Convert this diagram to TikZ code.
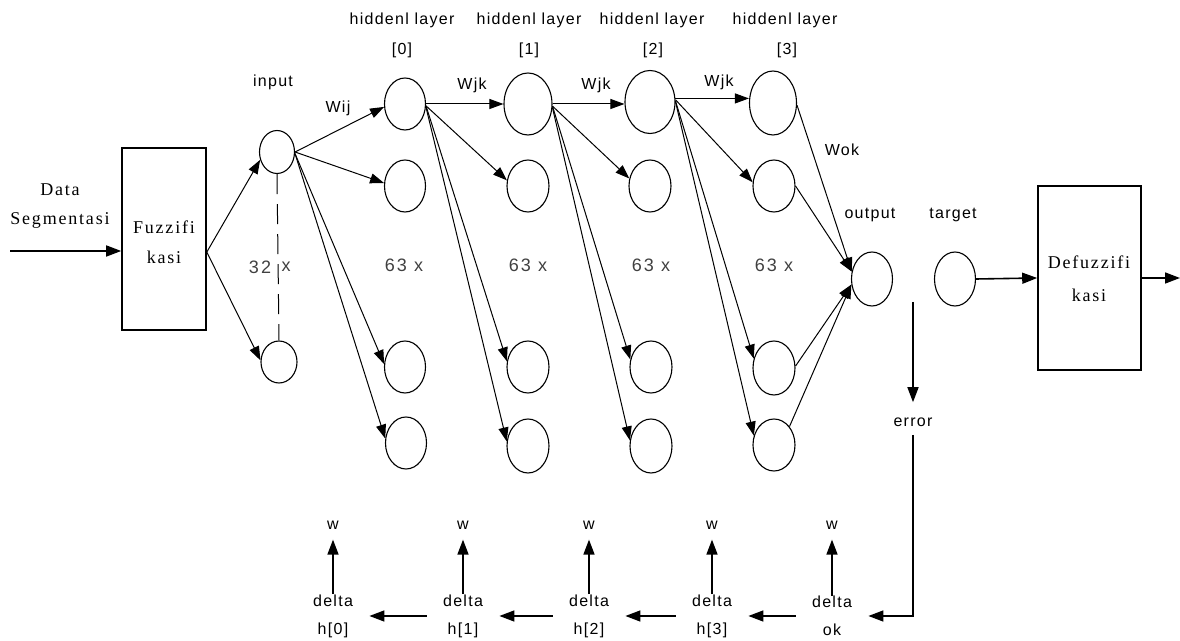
\documentclass[tikz,border=0pt]{standalone}
\usepackage{fontspec}
\setmainfont{Liberation Serif}
\newfontfamily\labfont[LetterSpace=8]{Liberation Sans}
\newfontfamily\cntfont[LetterSpace=12]{Liberation Sans}
\newfontfamily\serfont[LetterSpace=10]{Liberation Serif}
\usetikzlibrary{shapes.geometric,arrows.meta}

\begin{document}
\begin{tikzpicture}[x=0.5pt,y=-0.5pt,
  neuron/.style={ellipse, draw, line width=0.55pt, inner sep=0pt,
                 minimum width=20.5pt, minimum height=26pt},
  arr/.style={draw, line width=0.5pt, -{Triangle[length=7pt,width=5pt]}},
  thickarr/.style={arr, line width=0.8pt, -{Triangle[length=7.5pt,width=5.5pt]}},
  boxnode/.style={draw, line width=0.8pt, inner sep=0pt},
  lab/.style={font=\labfont\fontsize{8}{14}\selectfont, inner sep=0pt},
  cnt/.style={font=\cntfont\fontsize{9}{11}\selectfont, text=black!75, inner sep=0pt},
  ser/.style={font=\serfont\fontsize{9}{11}\selectfont, inner sep=0pt},
  deltanode/.style={lab, align=center, minimum width=36pt},
  wlab/.style={lab, inner xsep=0pt, inner ysep=5pt}]
\useasboundingbox (0,0) rectangle (1180,641);

% ---------- fuzzification block ----------
\node[boxnode, minimum width=42pt, minimum height=91pt] (fz) at (164,239) {};
\node[ser] (fzt1) at (164,227) {Fuzzifi};
\node[ser] (fzt2) at (164,257) {kasi};
\node[ser] (din1) at (60,190) {Data};
\node[ser] (din2) at (60,220) {Segmentasi};
\coordinate (din) at (10,251);
\draw[thickarr] (din) -- (din -| fz.west);

% ---------- input layer ----------
\node[neuron, minimum width=17.5pt, minimum height=21.5pt] (i1) at (277,152) {};
\node[neuron, minimum width=18pt, minimum height=21pt] (i2) at (279,362) {};
\draw[line width=0.5pt, dash pattern=on 10pt off 5pt] (i1.south) -- (i2.north);
\node[lab] (inl) at (273,82) {input};
\node[cnt] (n32) at (260,267) {32};
\node[cnt] (x32) at (286,267) {x};

% ---------- hidden layers ----------
\node[neuron] (h0a) at (405,104) {};
\node[neuron] (h0b) at (405,186) {};
\node[neuron] (h0c) at (405,367) {};
\node[neuron] (h0d) at (406,443) {};

\node[neuron, minimum width=24pt, minimum height=31pt] (h1a) at (528,104) {};
\node[neuron, minimum width=21pt] (h1b) at (528,186) {};
\node[neuron, minimum width=21pt] (h1c) at (528,367) {};
\node[neuron, minimum width=21pt, minimum height=27pt] (h1d) at (528,446) {};

\node[neuron, minimum width=25pt, minimum height=31.5pt] (h2a) at (650,102) {};
\node[neuron, minimum width=21pt] (h2b) at (650,186) {};
\node[neuron, minimum width=21pt] (h2c) at (651,367) {};
\node[neuron, minimum width=21pt, minimum height=27pt] (h2d) at (651,446) {};

\node[neuron, minimum width=23.5pt, minimum height=32pt] (h3a) at (773,103) {};
\node[neuron, minimum width=21pt] (h3b) at (774,186) {};
\node[neuron, minimum width=21pt, minimum height=27pt] (h3c) at (774,368) {};
\node[neuron, minimum width=21pt] (h3d) at (774,445) {};

\node[neuron, minimum height=27pt] (out) at (872,279) {};
\node[neuron, minimum height=27pt] (tg) at (955,279) {};

% layer titles
\node[lab] (t0) at (402,20) {hiddenl layer};
\node[lab] (t1) at (529,20) {hiddenl layer};
\node[lab] (t2) at (652,20) {hiddenl layer};
\node[lab] (t3) at (785,20) {hiddenl layer};
\node[lab] (b0) at (402,50) {[0]};
\node[lab] (b1) at (529,50) {[1]};
\node[lab] (b2) at (653,50) {[2]};
\node[lab] (b3) at (787,50) {[3]};

% neuron counts
\node[cnt] (c0) at (404,265) {63 x};
\node[cnt] (c1) at (528,265) {63 x};
\node[cnt] (c2) at (651,265) {63 x};
\node[cnt] (c3) at (774,265) {63 x};

% weight labels
\node[lab] (wij) at (338,108) {Wij};
\node[lab] (wjk0) at (472,85) {Wjk};
\node[lab] (wjk1) at (596,85) {Wjk};
\node[lab] (wjk2) at (719,82) {Wjk};
\node[lab] (wok) at (842,150) {Wok};
\node[lab] (outl) at (870,215) {output};
\node[lab] (tgl) at (953,215) {target};

% ---------- forward connections ----------
\draw[arr] (fz.-17) -- (i1.205);
\draw[arr] (fz.-17) -- (i2.175);

\draw[arr] (i1.east) -- (h0a.188);
\draw[arr] (i1.east) -- (h0b.172);
\draw[arr] (i1.-5) -- (h0c.172);
\draw[arr] (i1.-5) -- (h0d.168);

\draw[arr] (h0a.east) -- (h1a.west);
\draw[arr] (h0a.-5) -- (h1b.165);
\draw[arr] (h0a.-5) -- (h1c.165);
\draw[arr] (h0a.-8) -- (h1d.168);

\draw[arr] (h1a.east) -- (h1a.east -| h2a.west);
\draw[arr] (h1a.-5) -- (h2b.160);
\draw[arr] (h1a.-5) -- (h2c.160);
\draw[arr] (h1a.-8) -- (h2d.165);

\draw[arr] (h2a.8) -- (h2a.8 -| h3a.west);
\draw[arr] (h2a.5) -- (h3b.170);
\draw[arr] (h2a.2) -- (h3c.155);
\draw[arr] (h2a.0) -- (h3d.155);

\draw[arr] (h3a.-5) -- (out.160);
\draw[arr] (h3b.east) -- (out.160);
\draw[arr] (h3c.5) -- (out.195);
\draw[arr] (h3d.50) -- (out.195);

% ---------- defuzzification block ----------
\node[boxnode, minimum width=51.5pt, minimum height=92pt] (df) at (1089.5,278) {};
\node[ser] (dft1) at (1089,262) {Defuzzifi};
\node[ser] (dft2) at (1089,295) {kasi};
\draw[thickarr] (tg.east) -- (df.west);
\coordinate (dout) at (1180,278);
\draw[thickarr] (df.east) -- (dout);

% ---------- error and back-propagation ----------
\coordinate (errtop) at (913,302);
\node[lab, inner sep=4pt] (err) at (913,422) {error};
\draw[thickarr, shorten >=3.5pt] (errtop) -- (err.north);

\node[deltanode] (dh0) at (333,616) {delta\\h[0]};
\node[deltanode] (dh1) at (463,616) {delta\\h[1]};
\node[deltanode] (dh2) at (589,616) {delta\\h[2]};
\node[deltanode] (dh3) at (712,616) {delta\\h[3]};
\node[deltanode] (dok) at (832,616) {delta\\ok};

\node[wlab] (w0) at (333,525) {w};
\node[wlab] (w1) at (463,525) {w};
\node[wlab] (w2) at (589,525) {w};
\node[wlab] (w3) at (712,525) {w};
\node[wlab] (w4) at (832,525) {w};

\draw[thickarr] (err.south) -- (err.south |- dok) -- (dok.east);
\draw[thickarr] (dok.west) -- (dh3.east);
\draw[thickarr] (dh3.west) -- (dh2.east);
\draw[thickarr] (dh2.west) -- (dh1.east);
\draw[thickarr] (dh1.west) -- (dh0.east);

\draw[thickarr] (dh0.north) -- (w0.south);
\draw[thickarr] (dh1.north) -- (w1.south);
\draw[thickarr] (dh2.north) -- (w2.south);
\draw[thickarr] (dh3.north) -- (w3.south);
\draw[thickarr] (dok.north) -- (w4.south);
\end{tikzpicture}
\end{document}
